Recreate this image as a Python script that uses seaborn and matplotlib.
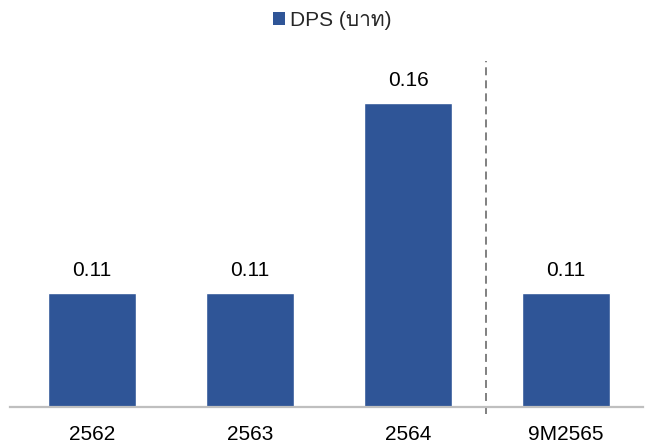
import matplotlib
matplotlib.use("Agg")
import matplotlib.pyplot as plt
from matplotlib import font_manager
from matplotlib.ft2font import FT2Font
from matplotlib.patches import Patch
import seaborn as sns
import pandas as pd

# Dividend per share by period
categories = ["2562", "2563", "2564", "9M2565"]
dps = [0.11, 0.11, 0.16, 0.11]
series_name = "DPS (บาท)"
value_labels = ["0.11", "0.11", "0.16", "0.11"]

BAR_COLOR = "#2F5597"
AXIS_COLOR = "#BFBFBF"
DIVIDER_COLOR = "#808080"
FONT_SIZE = 15


def find_thai_family():
    """Return the name of an installed font that covers Thai script, if any."""
    seen = set()
    for entry in font_manager.fontManager.ttflist:
        if entry.fname in seen:
            continue
        seen.add(entry.fname)
        try:
            if 0x0E1A in FT2Font(entry.fname).get_charmap():
                return entry.name
        except Exception:
            continue
    return None


sns.set_theme(style="white")
families = ["Liberation Sans"]
thai = find_thai_family()
if thai:
    families.append(thai)
families.append("DejaVu Sans")
plt.rcParams["font.family"] = families

df = pd.DataFrame({"period": categories, "dps": dps})

W, H = 653, 448
fig = plt.figure(figsize=(W / 100, H / 100), dpi=100)
ax = fig.add_axes([10 / W, 41 / H, 633 / W, 357 / H])

sns.barplot(data=df, x="period", y="dps", color=BAR_COLOR, width=0.557,
            saturation=1, ax=ax)

ax.set_xlim(-0.519, 3.487)
ax.set_ylim(0.08, 0.08 + 357 / 3800)

ax.bar_label(ax.containers[0], labels=value_labels, padding=9,
             fontsize=FONT_SIZE, color="#000000")

# divider between full years and the nine-month period
ax.axvline(2.495, ymin=-7 / 357, ymax=346 / 357, color=DIVIDER_COLOR,
           linewidth=1.4, linestyle=(0, (4.1, 2.6)), clip_on=False)

for side in ("top", "right", "left"):
    ax.spines[side].set_visible(False)
ax.spines["bottom"].set_color(AXIS_COLOR)
ax.spines["bottom"].set_linewidth(1.6)

ax.set_xlabel("")
ax.set_ylabel("")
ax.set_yticks([])
ax.tick_params(axis="x", length=0, pad=13, labelsize=FONT_SIZE,
               labelcolor="#000000")

fig.legend(handles=[Patch(facecolor=BAR_COLOR, edgecolor="none", label=series_name)],
           loc="center", bbox_to_anchor=(332 / W, 1 - 20 / H), frameon=False,
           fontsize=FONT_SIZE, handlelength=0.57, handleheight=0.57,
           handletextpad=0.25, borderpad=0, borderaxespad=0)

fig.savefig("out.png", dpi=100)
